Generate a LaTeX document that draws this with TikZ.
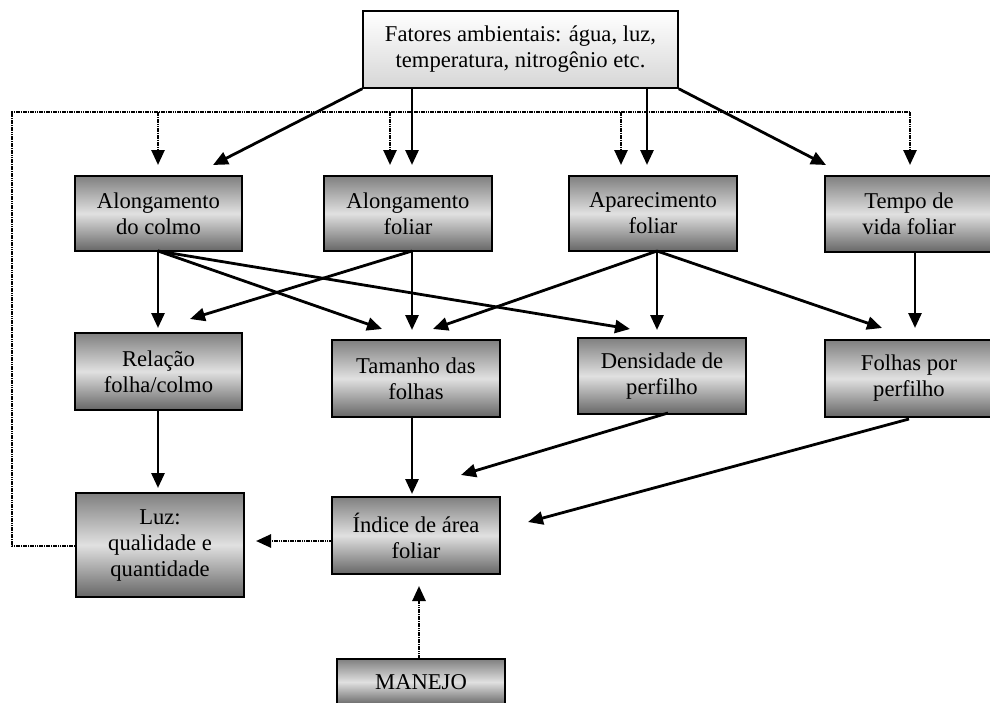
\documentclass[tikz,border=0pt]{standalone}
\usepackage{fontspec}
\setmainfont{Liberation Serif}
\usetikzlibrary{arrows.meta}
\pgfdeclareverticalshading{gboxsh}{100bp}{color(0bp)=(black!60); color(25bp)=(black!60); color(50bp)=(black!12); color(75bp)=(black!50); color(100bp)=(black!50)}
\pgfdeclareverticalshading{lboxsh}{100bp}{color(0bp)=(black!16); color(25bp)=(black!16); color(75bp)=(white); color(100bp)=(white)}
\begin{document}
\begin{tikzpicture}[x=1pt,y=-1pt,
  gbox/.style={draw=black, line width=1.5pt, rectangle, inner sep=0pt, align=center,
    shading=gboxsh, font=\fontsize{22.6}{26}\selectfont},
  lbox/.style={draw=black, line width=1.5pt, rectangle, inner sep=0pt, align=center,
    shading=lboxsh, font=\fontsize{22.6}{26}\selectfont},
  sarr/.style={line width=2.8pt, -{Triangle[length=15pt,width=13pt]}},
  darr/.style={line width=2.6pt, dash pattern=on 1.6pt off 0.7pt, -{Triangle[length=15pt,width=13pt]}},
  dline/.style={line width=2.6pt, dash pattern=on 1.6pt off 0.7pt}
]
\useasboundingbox (0,0) rectangle (990,702);
\begin{scope}
\clip (0,0) rectangle (990,702);
% nodes
\node[lbox, minimum width=315pt, minimum height=77pt] (fat) at (520.5,49.5) {Fatores ambientais: água, luz,\\temperatura, nitrogênio etc.};
\node[gbox, minimum width=167pt, minimum height=75pt] (ac) at (158.5,213.5) {Alongamento\\do colmo};
\node[gbox, minimum width=168pt, minimum height=75pt] (af) at (408,213.5) {Alongamento\\foliar};
\node[gbox, minimum width=168pt, minimum height=75pt] (ap) at (653,213.5) {Aparecimento\\foliar};
\node[gbox, minimum width=168pt, minimum height=76pt] (tv) at (909,214) {Tempo de\\vida foliar};
\node[gbox, minimum width=167pt, minimum height=77pt] (rel) at (158.5,371.5) {Relação\\folha/colmo};
\node[gbox, minimum width=168pt, minimum height=77pt] (tam) at (416,378.5) {Tamanho das\\folhas};
\node[gbox, minimum width=168pt, minimum height=76pt] (den) at (662,376) {Densidade de\\perfilho};
\node[gbox, minimum width=168pt, minimum height=77pt] (fol) at (909,378.5) {Folhas por\\perfilho};
\node[gbox, minimum width=168pt, minimum height=104pt] (luz) at (160,545) {Luz:\\qualidade e\\quantidade};
\node[gbox, minimum width=168pt, minimum height=77pt] (iaf) at (416,535.5) {Índice de área\\foliar};
\node[gbox, minimum width=168pt, minimum height=46pt] (man) at (421,682) {MANEJO};
% coordinates
\coordinate (f2) at (412,88);
\coordinate (f3) at (647,88);
\coordinate (tac) at (213,165);
\coordinate (taf) at (412,165);
\coordinate (tap) at (647,165);
\coordinate (ttv) at (826,165);
\coordinate (lc) at (12,546);
\coordinate (tc) at (12,112);
\coordinate (d1) at (158,112);
\coordinate (d1e) at (158,165);
\coordinate (d2) at (390,112);
\coordinate (d2e) at (390,165);
\coordinate (d3) at (621,112);
\coordinate (d3e) at (621,165);
\coordinate (d4) at (910,112);
\coordinate (d4e) at (910,165);
\coordinate (sac) at (158,251);
\coordinate (saf) at (412,251);
\coordinate (sap) at (657,251);
\coordinate (stv) at (915,252);
\coordinate (r1) at (158,328);
\coordinate (r2) at (190,319);
\coordinate (m1) at (382,329);
\coordinate (m2) at (412,330);
\coordinate (m3) at (433,329);
\coordinate (n1) at (630,329);
\coordinate (n2) at (657,330);
\coordinate (p1) at (882,328);
\coordinate (p2) at (915,328);
\coordinate (srel) at (158,410);
\coordinate (tluz) at (158,488);
\coordinate (stam) at (412,417);
\coordinate (i1) at (412,494);
\coordinate (sden) at (668,413);
\coordinate (i2) at (461,475);
\coordinate (sfol) at (909,419);
\coordinate (i3) at (528,522);
\coordinate (iw) at (333,541);
\coordinate (le) at (256,541);
\coordinate (mn) at (419,659);
\coordinate (is) at (419,586);
% dotted feedback
\draw[dline] (luz.west |- lc) -- (lc) -- (tc) -- (d4);
\draw[darr] (d1) -- (d1e);
\draw[darr] (d2) -- (d2e);
\draw[darr] (d3) -- (d3e);
\draw[darr] (d4) -- (d4e);
% from factors
\draw[sarr] (fat.south west) -- (tac);
\draw[sarr] (f2) -- (taf);
\draw[sarr] (f3) -- (tap);
\draw[sarr] (fat.south east) -- (ttv);
% middle
\draw[sarr] (sac) -- (r1);
\draw[sarr] (sac) -- (m1);
\draw[sarr] (sac) -- (n1);
\draw[sarr] (saf) -- (r2);
\draw[sarr] (saf) -- (m2);
\draw[sarr] (sap) -- (m3);
\draw[sarr] (sap) -- (n2);
\draw[sarr] (sap) -- (p1);
\draw[sarr] (stv) -- (p2);
% lower
\draw[sarr] (srel) -- (tluz);
\draw[sarr] (stam) -- (i1);
\draw[sarr] (sden) -- (i2);
\draw[sarr] (sfol) -- (i3);
\draw[darr] (iw) -- (le);
\draw[darr] (mn) -- (is);
\end{scope}
\end{tikzpicture}
\end{document}
